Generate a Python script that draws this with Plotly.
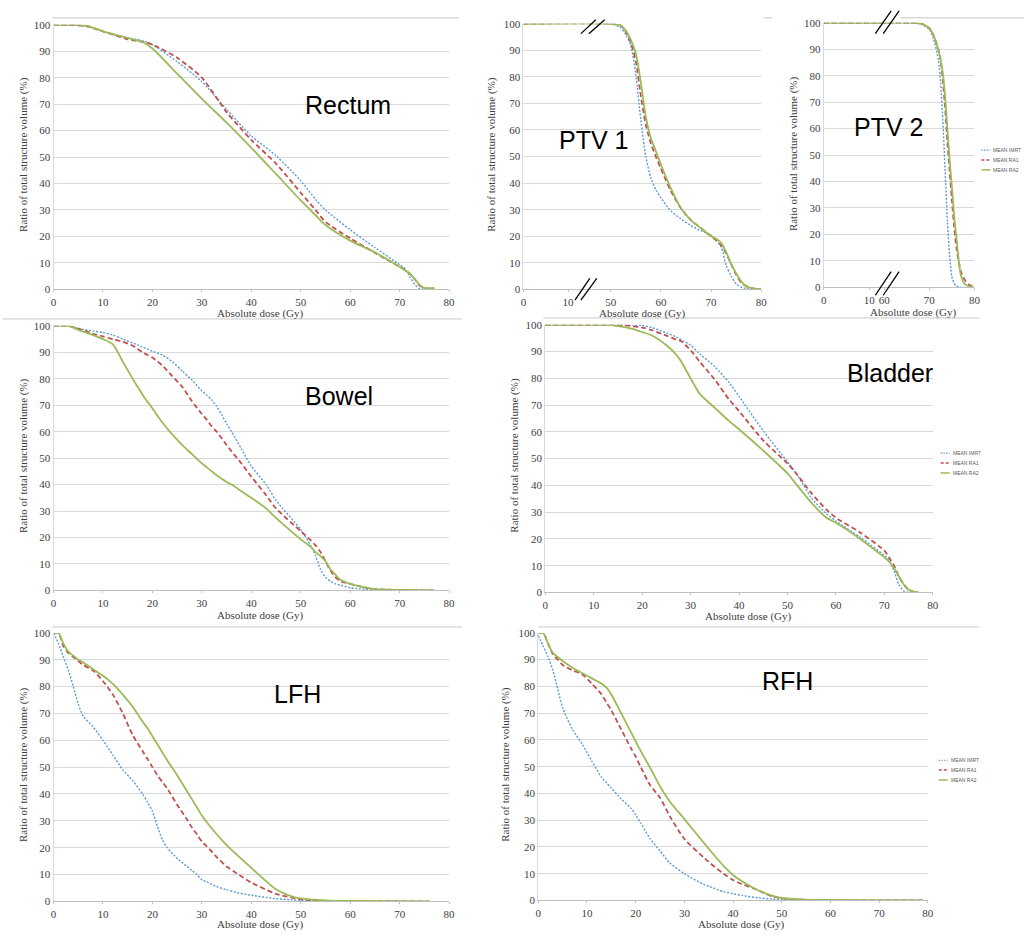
import numpy as np
import plotly.graph_objects as go

W, H = 1031, 938

# ---------------- data ----------------
SERIES = ["MEAN IMRT", "MEAN RA1", "MEAN RA2"]
X_TICKS = [0, 10, 20, 30, 40, 50, 60, 70, 80]
Y_TICKS = [0, 10, 20, 30, 40, 50, 60, 70, 80, 90, 100]

RECTUM_DOSE = [0, 5, 7, 10, 15, 18, 20, 25, 30, 35, 40, 45, 50, 53, 55, 60, 65, 70, 71, 72, 73, 74, 75, 77]
RECTUM_IMRT = [100, 99.8, 99.3, 97.5, 95, 94, 92.5, 86, 78.5, 68, 58, 50.5, 41, 34, 30, 22.5, 15.8, 9.3, 8, 5, 2, 0.3, 0, 0]
RECTUM_RA1 = [100, 99.8, 99.3, 97.5, 94.5, 93.5, 92.5, 87.5, 80, 67, 56.5, 47.5, 36.5, 30, 25.5, 19.3, 13.8, 8.5, 7.5, 6, 4, 1.5, 0.5, 0.3]
RECTUM_RA2 = [100, 100, 99.5, 97.5, 95, 93.5, 91, 81.5, 72, 63, 53.5, 43.6, 33.6, 28, 24.3, 18.4, 14, 8.5, 7.3, 6, 4, 1.8, 0.5, 0.5]

PTV1_DOSE = [0, 50, 52, 53, 54, 55, 56, 57, 58, 59, 60, 62, 64, 66, 68, 70, 71, 72, 73, 74, 75, 76, 77, 78, 80]
PTV1_IMRT = [100, 100, 98.5, 96, 92, 81, 64, 50, 42, 37.5, 34.5, 29.5, 26.5, 24, 22, 20.3, 18.5, 16, 9, 5, 2, 0.8, 0.3, 0, 0]
PTV1_RA1 = [100, 100, 99.3, 97, 93, 86, 73, 62, 55, 50, 45.5, 37, 30.5, 26, 23, 20, 18.5, 16.5, 13.5, 9.5, 5.5, 2.5, 1.2, 0.5, 0]
PTV1_RA2 = [100, 100, 99.3, 97.5, 94, 89, 78, 65, 57, 52, 47, 38, 30.5, 26, 23, 20, 19, 17.5, 14, 9.5, 6, 3, 1.2, 0.5, 0]
PTV1_TICKS = [0, 10, 50, 60, 70, 80]

PTV2_DOSE = [0, 60, 68, 70, 71, 72, 72.5, 73, 73.5, 74, 74.5, 75, 75.5, 76, 77, 78, 79, 80]
PTV2_IMRT = [100, 100, 99.5, 97.5, 93.5, 86, 77, 63, 44, 25, 12, 4, 1.5, 0.5, 0, 0, 0, 0]
PTV2_RA1 = [100, 100, 99.8, 98, 95, 90, 86, 78, 68, 55, 44, 33, 23, 15, 6, 2.5, 0.8, 0]
PTV2_RA2 = [100, 100, 99.8, 98, 95, 89.5, 86, 81, 72, 60, 48, 38, 27, 19, 4.5, 1, 0.3, 0]
PTV2_TICKS = [0, 10, 60, 70, 80]

BOWEL_DOSE = [0, 3, 5, 8, 10, 12, 14, 16, 17, 18, 19, 20, 22, 24, 26, 28, 30, 31, 32, 33, 34, 35, 36, 38, 40, 43, 45,
              50, 52, 53, 54, 55, 56, 57, 58, 60, 62, 65, 70, 77]
BOWEL_IMRT = [100, 100, 99, 98, 97.5, 96.5, 95, 93.5, 92.8, 92, 91.2, 90.4, 89, 86.5, 83, 79.5, 75.4, 73.8, 72, 69.5,
              66.5, 63, 60, 53.5, 47, 40, 34, 23, 17, 13, 8, 5, 3.5, 2.5, 2, 1, 0.6, 0.3, 0, 0]
BOWEL_RA1 = [100, 100, 99, 97, 96, 95, 94, 92.5, 91.3, 90, 89, 88, 85, 81, 77, 71.5, 66.7, 64.5, 62, 60, 57.5, 55,
             52.5, 48, 43, 36, 31, 22.4, 19, 17, 14.5, 11, 7.5, 5, 3.5, 2.5, 1.5, 0.5, 0.2, 0]
BOWEL_RA2 = [100, 100, 98.5, 96.5, 95, 93, 86.5, 80, 77, 74, 71.3, 68.8, 63.5, 59, 55, 51.5, 48, 46.5, 45, 43.5, 42.2,
             41, 40, 37.5, 35, 31, 27.4, 19.3, 16.5, 14.5, 13, 11, 8, 6, 4, 2.5, 1.5, 0.5, 0.2, 0]

BLADDER_DOSE = [0, 13, 15, 18, 20, 22, 25, 27, 28, 30, 32, 35, 38, 40, 45, 50, 52, 55, 58, 60, 65, 70, 71, 72, 73, 74, 75, 76, 77]
BLADDER_IMRT = [100, 100, 100, 100, 99.8, 99, 97, 95.5, 94.5, 92.4, 89, 84.4, 78.3, 73.3, 60.4, 48.8, 44, 35.2, 29.5, 26.7, 20.6, 13.8, 12, 8, 3, 0.5, 0, 0, 0]
BLADDER_RA1 = [100, 100, 100, 99.5, 99, 98, 96, 94.5, 94, 90.5, 86, 79.5, 72, 67.8, 56.8, 48.2, 44, 37, 31, 27.9, 22.4, 15.6, 13, 10, 6, 3, 1, 0.3, 0]
BLADDER_RA2 = [100, 100, 99.5, 98.5, 97.3, 96, 92.4, 89, 86.5, 80, 74, 69, 64, 61, 53, 44.5, 40, 33.4, 28, 26, 20, 13.1, 11.5, 9, 6, 3, 1, 0.3, 0]

LFH_DOSE = [0, 1, 2, 3, 4, 5, 6, 8, 10, 12, 14, 16, 18, 19, 20, 21, 22, 23, 25, 27, 28, 29, 30, 31, 33, 35, 37, 40,
            45, 48, 50, 55, 60, 76]
LFH_IMRT = [100, 96, 91, 86, 80, 73.5, 69, 65, 60, 54.5, 49, 45, 40, 37, 33.5, 28, 23, 20, 16, 13, 11.5, 10, 8, 7.3,
            5.5, 4.3, 3.3, 2.3, 1, 0.6, 0.4, 0.2, 0.1, 0]
LFH_RA1 = [100, 100, 95, 92.5, 91, 89.5, 88, 86, 82, 77, 70, 62, 56, 53, 50, 47, 44.5, 42, 36, 30.5, 27.5, 25, 22.3,
           20.5, 16.5, 13, 10.5, 7, 2.8, 1.5, 0.8, 0.2, 0.1, 0]
LFH_RA2 = [100, 100, 96, 93, 91.5, 90, 89, 86.5, 84, 81, 77, 72.5, 67, 64.5, 61.5, 58.5, 55.5, 52.5, 47, 41, 38, 35,
           32, 29.5, 25, 21, 17.5, 12.5, 4.5, 2, 1.1, 0.4, 0.2, 0]

RFH_DOSE = [0, 1, 2, 3, 4, 5, 7, 9, 11, 13, 14, 15, 17, 19, 20, 21, 23, 25, 27, 30, 34, 35, 38, 40, 42, 45, 48, 50, 55, 60, 79]
RFH_IMRT = [99, 95, 91, 86, 79, 72, 64, 58.5, 52, 46, 44, 42, 38, 34.5, 32, 29, 23, 18.5, 14, 10, 6, 5.3, 3.3, 2.5, 1.8, 1, 0.5, 0.3, 0.1, 0, 0]
RFH_RA1 = [100, 100, 96, 92, 90, 88, 86, 84.5, 81, 77, 74, 71, 64, 57, 53.8, 50, 43, 38.4, 31.5, 23, 16, 14.4, 10, 7.6, 6, 3.9, 1.5, 0.8, 0.2, 0.1, 0]
RFH_RA2 = [100, 100, 96, 92.5, 91, 89.5, 87, 85, 83, 81, 79.5, 77, 70, 63, 59.4, 56, 49.5, 42.7, 37, 30.4, 21.5, 19.3, 13, 9.5, 7, 3.9, 1.8, 0.9, 0.3, 0.2, 0]

# ---------------- styles ----------------
COLORS = ["#5B9BD5", "#C0504D", "#9BBB59"]
DASHES = ["2px,1.6px", "5px,3px", "solid"]
LEGEND_DASHES = ["1.5px,1.2px", "3px,2px", "solid"]
WIDTHS = [1.4, 1.8, 1.8]
GRID = "#d9d9d9"
SERIF = "Liberation Serif, Times New Roman, serif"
TICKFONT = dict(family=SERIF, size=11, color="#404040")
TITLEFONT = dict(family="Liberation Sans, Arial, sans-serif", size=25, color="#000000")


def px(x):
    return x / W


def py(y):
    return 1 - y / H


# panel layout: (left, right, top, bottom) in pixels, axis mapping
panels = [
    dict(name="Rectum", dose=RECTUM_DOSE, vals=[RECTUM_IMRT, RECTUM_RA1, RECTUM_RA2],
         box=(51, 450, 19, 287), map_d=[0, 80], map_p=[0, 80], ticks=X_TICKS,
         label=(348, 100), ytitle=(20, 150), xtitle=(259, 311), legend=None),
    dict(name="PTV 1", dose=PTV1_DOSE, vals=[PTV1_IMRT, PTV1_RA1, PTV1_RA2],
         box=(525, 765, 18, 287), map_d=[0, 10, 50, 80], map_p=[0, 45, 88, 240], ticks=PTV1_TICKS,
         label=(596, 136), ytitle=(492, 150), xtitle=(645, 311), legend=None),
    dict(name="PTV 2", dose=PTV2_DOSE, vals=[PTV2_IMRT, PTV2_RA1, PTV2_RA2],
         box=(828, 980, 17, 285), map_d=[0, 10, 60, 80], map_p=[0, 46, 61, 152], ticks=PTV2_TICKS,
         label=(893, 123), ytitle=(797, 150), xtitle=(918, 310), legend=(987, 146)),
    dict(name="Bowel", dose=BOWEL_DOSE, vals=[BOWEL_IMRT, BOWEL_RA1, BOWEL_RA2],
         box=(51, 450, 324, 592), map_d=[0, 80], map_p=[0, 80], ticks=X_TICKS,
         label=(339, 395), ytitle=(20, 455), xtitle=(259, 617), legend=None),
    dict(name="Bladder", dose=BLADDER_DOSE, vals=[BLADDER_IMRT, BLADDER_RA1, BLADDER_RA2],
         box=(547, 938, 323, 594), map_d=[0, 80], map_p=[0, 80], ticks=X_TICKS,
         label=(895, 372), ytitle=(516, 455), xtitle=(752, 618), legend=(946, 453)),
    dict(name="LFH", dose=LFH_DOSE, vals=[LFH_IMRT, LFH_RA1, LFH_RA2],
         box=(51, 450, 635, 907), map_d=[0, 80], map_p=[0, 80], ticks=X_TICKS,
         label=(297, 697), ytitle=(20, 768), xtitle=(259, 930), legend=None),
    dict(name="RFH", dose=RFH_DOSE, vals=[RFH_IMRT, RFH_RA1, RFH_RA2],
         box=(540, 933, 635, 906), map_d=[0, 80], map_p=[0, 80], ticks=X_TICKS,
         label=(791, 684), ytitle=(507, 768), xtitle=(744, 930), legend=(944, 764)),
]

fig = go.Figure()
annotations = []
shapes = []
layout_axes = {}

for i, p in enumerate(panels, start=1):
    xa = "x" if i == 1 else f"x{i}"
    ya = "y" if i == 1 else f"y{i}"
    xk = "xaxis" if i == 1 else f"xaxis{i}"
    yk = "yaxis" if i == 1 else f"yaxis{i}"
    left, right, top, bottom = p["box"]
    xpos = np.interp(p["dose"], p["map_d"], p["map_p"])
    for s in range(3):
        fig.add_trace(go.Scatter(
            x=xpos, y=p["vals"][s], mode="lines", name=SERIES[s],
            line=dict(color=COLORS[s], dash=DASHES[s], width=WIDTHS[s], shape="spline", smoothing=0.7),
            xaxis=xa, yaxis=ya, showlegend=False, hoverinfo="x+y"))
    tickpos = list(np.interp(p["ticks"], p["map_d"], p["map_p"]))
    layout_axes[xk] = dict(
        domain=[px(left), px(right)], anchor=ya, range=[p["map_p"][0], p["map_p"][-1]],
        tickmode="array", tickvals=tickpos, ticktext=[str(t) for t in p["ticks"]],
        showgrid=False, zeroline=False, showline=True, linecolor="#bfbfbf", linewidth=1,
        ticks="outside", ticklen=2, tickcolor="#bfbfbf", tickfont=TICKFONT, fixedrange=True)
    layout_axes[yk] = dict(
        domain=[py(bottom), py(top)], anchor=xa, range=[0, 100],
        tickmode="array", tickvals=Y_TICKS, showgrid=True, gridcolor=GRID, gridwidth=1,
        zeroline=False, showline=True, linecolor=GRID, linewidth=1, ticks="",
        tickfont=TICKFONT, fixedrange=True)
    annotations.append(dict(text=p["name"], x=px(p["label"][0]), y=py(p["label"][1]),
                            xref="paper", yref="paper", showarrow=False, font=TITLEFONT,
                            xanchor="center", yanchor="middle"))
    annotations.append(dict(text="Ratio of total structure volume (%)", x=px(p["ytitle"][0]),
                            y=py(p["ytitle"][1]), xref="paper", yref="paper", showarrow=False,
                            textangle=-90, font=dict(family=SERIF, size=11, color="#404040"),
                            xanchor="center", yanchor="middle"))
    annotations.append(dict(text="Absolute dose (Gy)", x=px(p["xtitle"][0]), y=py(p["xtitle"][1]),
                            xref="paper", yref="paper", showarrow=False,
                            font=dict(family=SERIF, size=11, color="#404040"),
                            xanchor="center", yanchor="middle"))
    if p["legend"] is not None:
        lx, ly = p["legend"]
        for s in range(3):
            yy = ly + s * 10
            shapes.append(dict(type="line", xref="paper", yref="paper",
                               x0=px(lx), x1=px(lx + 9), y0=py(yy), y1=py(yy),
                               line=dict(color=COLORS[s], width=1.2 if s == 0 else 1.5, dash=LEGEND_DASHES[s])))
            annotations.append(dict(text=SERIES[s], x=px(lx + 10), y=py(yy), xref="paper", yref="paper",
                                    showarrow=False, xanchor="left", yanchor="middle",
                                    font=dict(family="Liberation Sans, Arial, sans-serif", size=5, color="#595959")))

# faint frame lines at panel tops
for (x0, x1, y) in [(50, 460, 12), (767, 776, 12), (905, 1030, 12), (0, 463, 317),
                    (545, 985, 316), (50, 463, 629), (540, 985, 629)]:
    shapes.append(dict(type="line", xref="paper", yref="paper", x0=px(x0), x1=px(x1),
                       y0=py(y), y1=py(y), line=dict(color="#c8c8c8", width=1)))

# axis break marks (//)
for (x0, y0, x1, y1) in [(583, 28, 598, 14), (591, 28, 607, 14), (577, 298, 592, 276), (583, 298, 599, 276),
                         (880, 28, 896, 5), (888, 28, 904, 5), (880, 293, 896, 269), (888, 293, 904, 269)]:
    shapes.append(dict(type="line", xref="paper", yref="paper", x0=px(x0), x1=px(x1),
                       y0=py(y0), y1=py(y1), line=dict(color="#000000", width=1.3)))

fig.update_layout(
    width=W, height=H, margin=dict(l=0, r=0, t=0, b=0),
    paper_bgcolor="white", plot_bgcolor="white", showlegend=False,
    annotations=annotations, shapes=shapes, **layout_axes)

fig.write_html("out.html", config={"displayModeBar": False},
               post_script="document.body.style.margin='0';document.body.style.overflow='hidden';")
